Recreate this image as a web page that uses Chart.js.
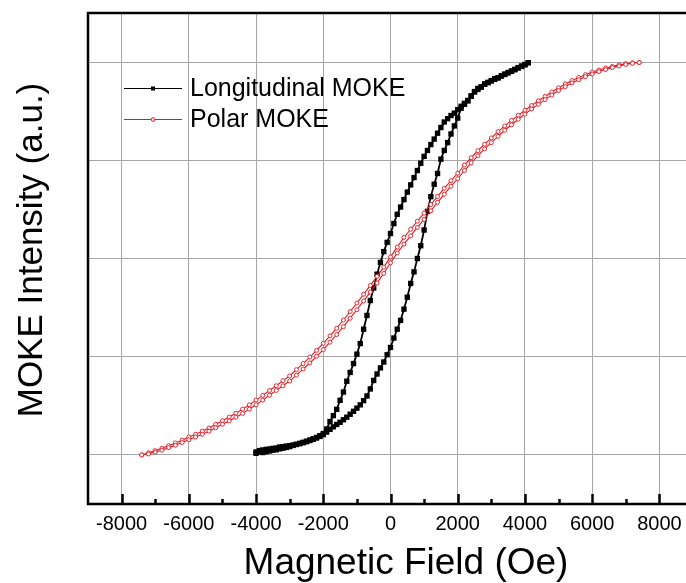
<!DOCTYPE html>
<html>
<head>
<meta charset="utf-8">
<script src="https://cdn.jsdelivr.net/npm/chart.js@4/dist/chart.umd.min.js"></script>
<style>
  html, body { margin: 0; padding: 0; overflow: hidden; background: #fff; }
  #moke { display: block; }
</style>
</head>
<body>
<canvas id="moke" width="700" height="583"></canvas>
<script>
const FONT = '"Liberation Sans", Arial, sans-serif';

// longitudinal loop: field sweep (Oe) and normalized Kerr signal per branch
const longField = [
  -4000, -3900, -3800, -3700, -3600, -3500, -3400, -3300, -3200, -3100,
  -3000, -2900, -2800, -2700, -2600, -2500, -2400, -2300, -2200, -2100,
  -2000, -1900, -1800, -1700, -1600, -1500, -1400, -1300, -1200, -1100,
  -1000, -900, -800, -700, -600, -500, -400, -300, -200, -100,
  0, 100, 200, 300, 400, 500, 600, 700, 800, 900,
  1000, 1100, 1200, 1300, 1400, 1500, 1600, 1700, 1800, 1900,
  2000, 2100, 2200, 2300, 2400, 2500, 2600, 2700, 2800, 2900,
  3000, 3100, 3200, 3300, 3400, 3500, 3600, 3700, 3800, 3900,
  4000, 4100
];
// branch swept from +H down to -H
const longDown = [
  -0.985, -0.978, -0.988, -0.972, -0.980, -0.967, -0.974, -0.960, -0.966, -0.955,
  -0.958, -0.950, -0.946, -0.941, -0.936, -0.930, -0.924, -0.918, -0.911, -0.902,
  -0.891, -0.868, -0.830, -0.800, -0.768, -0.722, -0.680, -0.625, -0.580, -0.535,
  -0.487, -0.433, -0.360, -0.290, -0.214, -0.150, -0.080, -0.020, 0.035, 0.082,
  0.127, 0.178, 0.225, 0.262, 0.300, 0.338, 0.375, 0.412, 0.448, 0.485,
  0.520, 0.550, 0.580, 0.608, 0.638, 0.667, 0.695, 0.712, 0.728, 0.740,
  0.758, 0.775, 0.790, 0.805, 0.828, 0.850, 0.866, 0.873, 0.889, 0.897,
  0.906, 0.916, 0.920, 0.931, 0.939, 0.947, 0.955, 0.963, 0.972, 0.980,
  0.988, 0.997
];
// branch swept from -H up to +H
const longUp = [
  -0.992, -0.985, -0.975, -0.984, -0.970, -0.976, -0.965, -0.969, -0.958, -0.962,
  -0.953, -0.952, -0.947, -0.943, -0.938, -0.933, -0.927, -0.921, -0.914, -0.906,
  -0.897, -0.884, -0.870, -0.857, -0.845, -0.834, -0.821, -0.808, -0.793, -0.778,
  -0.762, -0.745, -0.724, -0.700, -0.664, -0.621, -0.588, -0.557, -0.527, -0.490,
  -0.453, -0.405, -0.360, -0.315, -0.258, -0.197, -0.127, -0.068, 0.000, 0.065,
  0.145, 0.240, 0.315, 0.378, 0.433, 0.506, 0.550, 0.590, 0.634, 0.675,
  0.715, 0.765, 0.785, 0.802, 0.826, 0.848, 0.861, 0.874, 0.887, 0.895,
  0.904, 0.912, 0.920, 0.929, 0.937, 0.945, 0.953, 0.961, 0.970, 0.978,
  0.986, 0.997
];

// polar loop
const polarField = [
  -7400, -7200, -7000, -6800, -6600, -6400, -6200, -6000, -5800, -5600,
  -5400, -5200, -5000, -4800, -4600, -4400, -4200, -4000, -3800, -3600,
  -3400, -3200, -3000, -2800, -2600, -2400, -2200, -2000, -1800, -1600,
  -1400, -1200, -1000, -800, -600, -400, -200, 0, 200, 400,
  600, 800, 1000, 1200, 1400, 1600, 1800, 2000, 2200, 2400,
  2600, 2800, 3000, 3200, 3400, 3600, 3800, 4000, 4200, 4400,
  4600, 4800, 5000, 5200, 5400, 5600, 5800, 6000, 6200, 6400,
  6600, 6800, 7000, 7200, 7400
];
const polarDown = [
  -1.000, -0.989, -0.978, -0.966, -0.953, -0.939, -0.925, -0.909, -0.895, -0.879,
  -0.863, -0.844, -0.826, -0.807, -0.788, -0.767, -0.745, -0.721, -0.697, -0.672,
  -0.648, -0.622, -0.598, -0.566, -0.535, -0.502, -0.468, -0.432, -0.394, -0.355,
  -0.313, -0.270, -0.227, -0.182, -0.137, -0.091, -0.044, 0.008, 0.058, 0.107,
  0.149, 0.190, 0.231, 0.275, 0.316, 0.357, 0.396, 0.434, 0.476, 0.513,
  0.549, 0.582, 0.614, 0.646, 0.675, 0.703, 0.729, 0.755, 0.779, 0.803,
  0.825, 0.848, 0.869, 0.889, 0.906, 0.922, 0.936, 0.949, 0.960, 0.970,
  0.978, 0.986, 0.992, 0.996, 0.998
];
const polarUp = [
  -1.000, -0.995, -0.986, -0.976, -0.963, -0.951, -0.937, -0.923, -0.909, -0.895,
  -0.879, -0.862, -0.844, -0.827, -0.808, -0.789, -0.767, -0.745, -0.721, -0.696,
  -0.672, -0.648, -0.624, -0.594, -0.563, -0.532, -0.498, -0.464, -0.426, -0.387,
  -0.347, -0.304, -0.261, -0.216, -0.171, -0.125, -0.076, -0.022, 0.028, 0.073,
  0.115, 0.158, 0.199, 0.243, 0.286, 0.327, 0.368, 0.406, 0.448, 0.487,
  0.523, 0.558, 0.590, 0.622, 0.653, 0.681, 0.709, 0.735, 0.761, 0.785,
  0.809, 0.832, 0.855, 0.875, 0.894, 0.910, 0.926, 0.939, 0.952, 0.962,
  0.972, 0.980, 0.988, 0.994, 0.998
];

const seriesNames = ["Longitudinal MOKE", "Polar MOKE"];
const xTickValues = [-8000, -6000, -4000, -2000, 0, 2000, 4000, 6000, 8000];
const xMinorValues = [-7000, -5000, -3000, -1000, 1000, 3000, 5000, 7000];
const yGridValues = [-1, -0.5, 0, 0.5, 1];
const xTitle = "Magnetic Field (Oe)";
const yTitle = "MOKE Intensity (a.u.)";

const BLACK = "#000000";
const RED = "#e3161e";

// one loop = down sweep followed by up sweep
function buildLoop(field, down, up) {
  const descending = field.map((f, i) => ({ x: f, y: down[i] })).reverse();
  const ascending = field.map((f, i) => ({ x: f, y: up[i] }));
  return descending.concat(ascending);
}

// black box round the plot plus inward ticks on the bottom edge
const framePlugin = {
  id: "frame",
  afterDraw(chart) {
    const { ctx, chartArea: a, scales } = chart;
    const x = scales.x;
    ctx.save();
    ctx.strokeStyle = BLACK;
    ctx.lineWidth = 2.5;
    ctx.beginPath();
    xTickValues.forEach((v) => {
      const px = Math.round(x.getPixelForValue(v)) + 0.5;
      ctx.moveTo(px, a.bottom);
      ctx.lineTo(px, a.bottom - 10);
    });
    xMinorValues.forEach((v) => {
      const px = Math.round(x.getPixelForValue(v)) + 0.5;
      ctx.moveTo(px, a.bottom);
      ctx.lineTo(px, a.bottom - 5);
    });
    ctx.stroke();
    ctx.strokeRect(a.left, a.top, a.right - a.left, a.bottom - a.top);
    ctx.restore();
  }
};

// legend inside the top-left corner
const legendPlugin = {
  id: "mokeLegend",
  afterDraw(chart) {
    const { ctx, chartArea: a } = chart;
    const x0 = a.left + 36;
    const x1 = a.left + 94;
    const tx = a.left + 102;
    const rows = [
      { y: a.top + 75, color: BLACK, name: seriesNames[0], square: true },
      { y: a.top + 106, color: RED, name: seriesNames[1], square: false }
    ];
    ctx.save();
    ctx.font = "25px " + FONT;
    ctx.textBaseline = "middle";
    ctx.textAlign = "left";
    rows.forEach((r) => {
      const mx = (x0 + x1) / 2;
      ctx.strokeStyle = r.color;
      ctx.lineWidth = 1;
      ctx.beginPath();
      ctx.moveTo(x0, r.y + 0.5);
      ctx.lineTo(x1, r.y + 0.5);
      ctx.stroke();
      if (r.square) {
        ctx.fillStyle = BLACK;
        ctx.fillRect(mx - 2, r.y - 1.5, 4, 4);
      } else {
        ctx.fillStyle = "#ffffff";
        ctx.beginPath();
        ctx.arc(mx, r.y + 0.5, 1.8, 0, Math.PI * 2);
        ctx.fill();
        ctx.stroke();
      }
      ctx.fillStyle = BLACK;
      ctx.fillText(r.name, tx, r.y + 1);
    });
    ctx.restore();
  }
};

// axis titles
const titlePlugin = {
  id: "axisTitles",
  afterDraw(chart) {
    const { ctx } = chart;
    ctx.save();
    ctx.fillStyle = BLACK;
    ctx.textAlign = "center";
    ctx.textBaseline = "alphabetic";
    ctx.font = "37px " + FONT;
    ctx.fillText(xTitle, 406, 574);
    ctx.font = "35px " + FONT;
    ctx.translate(42, 250);
    ctx.rotate(-Math.PI / 2);
    ctx.fillText(yTitle, 0, 0);
    ctx.restore();
  }
};

new Chart(document.getElementById("moke"), {
  type: "scatter",
  data: {
    datasets: [
      {
        label: seriesNames[0],
        data: buildLoop(longField, longDown, longUp),
        showLine: true,
        borderColor: BLACK,
        backgroundColor: BLACK,
        borderWidth: 1.8,
        pointStyle: "rect",
        pointRadius: 3.8,
        pointBorderWidth: 0,
        order: 1
      },
      {
        label: seriesNames[1],
        data: buildLoop(polarField, polarDown, polarUp),
        showLine: true,
        borderColor: RED,
        backgroundColor: "#ffffff",
        borderWidth: 1.1,
        pointStyle: "circle",
        pointRadius: 2,
        pointBorderWidth: 0.9,
        order: 0
      }
    ]
  },
  options: {
    responsive: false,
    animation: false,
    events: [],
    layout: { padding: { left: 88, top: 13, right: 7, bottom: 39 } },
    plugins: {
      legend: { display: false },
      tooltip: { enabled: false }
    },
    scales: {
      x: {
        type: "linear",
        min: -9000,
        max: 9000,
        afterBuildTicks: (scale) => {
          scale.ticks = xTickValues.map((v) => ({ value: v }));
        },
        grid: { color: "#a6a6a6", lineWidth: 1, drawTicks: false },
        border: { display: false },
        ticks: {
          padding: 8,
          color: BLACK,
          maxRotation: 0,
          autoSkip: false,
          font: { family: FONT, size: 20 },
          callback: (v) => String(v)
        }
      },
      y: {
        type: "linear",
        min: -1.25,
        max: 1.25,
        afterBuildTicks: (scale) => {
          scale.ticks = yGridValues.map((v) => ({ value: v }));
        },
        grid: { color: "#a6a6a6", lineWidth: 1, drawTicks: false },
        border: { display: false },
        ticks: { display: false }
      }
    }
  },
  plugins: [framePlugin, legendPlugin, titlePlugin]
});
</script>
</body>
</html>
